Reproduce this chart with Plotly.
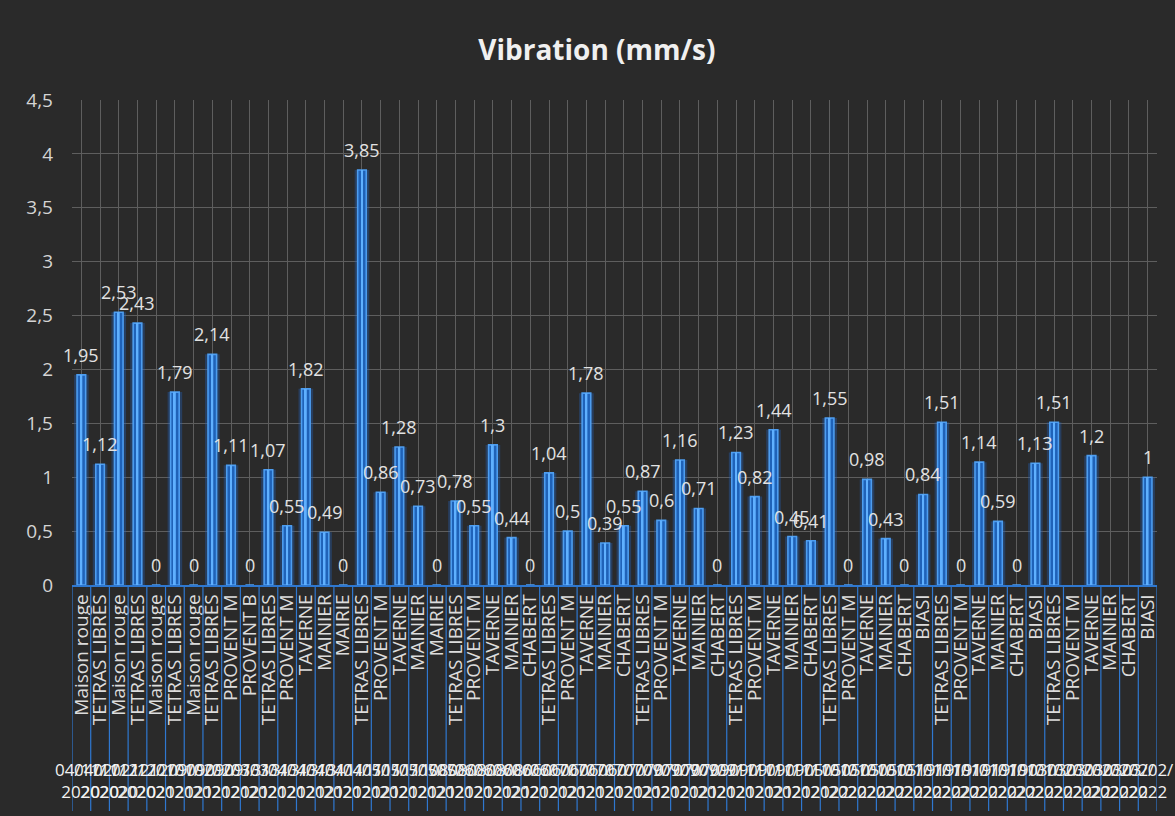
import plotly.graph_objects as go

# ---- data ----
sites = [
    "Maison rouge", "TETRAS LIBRES", "Maison rouge", "TETRAS LIBRES",
    "Maison rouge", "TETRAS LIBRES", "Maison rouge", "TETRAS LIBRES",
    "PROVENT M", "PROVENT B",
    "TETRAS LIBRES", "PROVENT M", "TAVERNE", "MAINIER", "MAIRIE",
    "TETRAS LIBRES", "PROVENT M", "TAVERNE", "MAINIER", "MAIRIE",
    "TETRAS LIBRES", "PROVENT M", "TAVERNE", "MAINIER", "CHABERT",
    "TETRAS LIBRES", "PROVENT M", "TAVERNE", "MAINIER", "CHABERT",
    "TETRAS LIBRES", "PROVENT M", "TAVERNE", "MAINIER", "CHABERT",
    "TETRAS LIBRES", "PROVENT M", "TAVERNE", "MAINIER", "CHABERT",
    "TETRAS LIBRES", "PROVENT M", "TAVERNE", "MAINIER", "CHABERT", "BIASI",
    "TETRAS LIBRES", "PROVENT M", "TAVERNE", "MAINIER", "CHABERT", "BIASI",
    "TETRAS LIBRES", "PROVENT M", "TAVERNE", "MAINIER", "CHABERT", "BIASI",
]

vibration = [
    1.95, 1.12, 2.53, 2.43, 0, 1.79, 0, 2.14,
    1.11, 0,
    1.07, 0.55, 1.82, 0.49, 0,
    3.85, 0.86, 1.28, 0.73, 0,
    0.78, 0.55, 1.3, 0.44, 0,
    1.04, 0.5, 1.78, 0.39, 0.55,
    0.87, 0.6, 1.16, 0.71, 0,
    1.23, 0.82, 1.44, 0.45, 0.41,
    1.55, 0, 0.98, 0.43, 0, 0.84,
    1.51, 0, 1.14, 0.59, 0, 1.13,
    1.51, None, 1.2, None, None, 1,
]

# measurement dates (illegible in the reference: overlapping text; estimated)
dates = (
    ["04/11/2020"] * 2 + ["02/12/2020"] * 2 + ["12/01/2021"] * 2 + ["09/02/2021"] * 2
    + ["09/03/2021"] * 2
    + ["13/04/2021"] * 5 + ["11/05/2021"] * 5 + ["08/06/2021"] * 5
    + ["06/07/2021"] * 5 + ["07/09/2021"] * 5 + ["09/11/2021"] * 5
    + ["05/01/2022"] * 6 + ["19/01/2022"] * 6 + ["03/02/2022"] * 6
)

y_ticks = [0, 0.5, 1, 1.5, 2, 2.5, 3, 3.5, 4, 4.5]

# ---- build ----
n = len(sites)
xs = list(range(n))

FONT = "Open Sans"
TXT = "#e2e2e2"
BG = "#2a2a2a"

fig = go.Figure()

# soft glow behind the bars
fig.add_trace(go.Bar(
    x=xs, y=vibration, width=0.78,
    marker=dict(color="rgba(35,100,190,0.36)", line=dict(width=0)),
    hoverinfo="skip", showlegend=False,
))
# main bars
fig.add_trace(go.Bar(
    x=xs, y=vibration, width=0.46,
    marker=dict(color="#1f62b8", line=dict(color="#4d9df0", width=1.6)),
    showlegend=False,
))
# bright core line
fig.add_trace(go.Bar(
    x=xs, y=vibration, width=0.1,
    marker=dict(color="#5fb0ff", line=dict(width=0)),
    hoverinfo="skip", showlegend=False,
))

annotations = []
# data labels
for i, v in enumerate(vibration):
    if v is None:
        continue
    annotations.append(dict(
        x=i, y=v, xref="x", yref="y",
        text=f"{v:g}".replace(".", ","), showarrow=False,
        xanchor="center", yanchor="bottom", yshift=6,
        font=dict(family=FONT, size=18, color=TXT),
    ))

# blue divider lines across the category label area
shapes = []
for i in range(n + 1):
    shapes.append(dict(
        type="line", xref="x", yref="paper",
        x0=i - 0.5, x1=i - 0.5, y0=0, y1=-0.466,
        line=dict(color="#2f78d0", width=1.2),
    ))

# date row under the site names
for i, d in enumerate(dates):
    annotations.append(dict(
        x=i, y=-0.352, xref="x", yref="paper",
        text=d[:6] + "<br>" + d[6:], showarrow=False,
        xanchor="center", yanchor="top",
        font=dict(family=FONT, size=17, color="#f2f2f2"),
    ))

fig.update_layout(
    width=1175, height=816,
    paper_bgcolor=BG, plot_bgcolor=BG,
    separators=", ",
    barmode="overlay",
    margin=dict(l=72, r=18, t=100, b=231),
    title=dict(
        text="<b>Vibration (mm/s)</b>", x=0.508, xanchor="center",
        y=0.938, yanchor="middle", yref="container",
        font=dict(family=FONT, size=28, color="#f0f0f0"),
    ),
    font=dict(family=FONT, color=TXT),
    shapes=shapes,
    annotations=annotations,
)

fig.update_xaxes(
    tickmode="array", tickvals=xs, ticktext=sites,
    tickangle=-90, tickfont=dict(family=FONT, size=19, color="#dcdcdc"),
    range=[-0.5, n - 0.5],
    showgrid=True, gridcolor="#5e5e5e", gridwidth=1,
    tickson="boundaries", ticks="",
    showline=True, linecolor="#2f78d0", linewidth=1.5,
    zeroline=False,
)
fig.update_yaxes(
    range=[0, 4.5], tickvals=y_ticks,
    tickfont=dict(family=FONT, size=19, color="#d4d4d4"),
    showgrid=True, gridcolor="#5e5e5e", gridwidth=1,
    zeroline=False, showline=False, ticks="",
    ticklabelstandoff=18,
)

fig.write_html(
    "out.html",
    config={"displayModeBar": False},
    post_script="document.body.style.margin='0';document.body.style.padding='0';",
)
